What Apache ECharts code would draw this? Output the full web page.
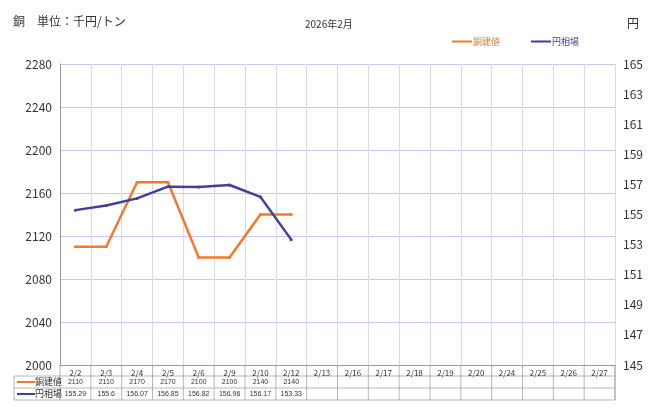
<!DOCTYPE html>
<html><head><meta charset="utf-8">
<script src="https://cdn.jsdelivr.net/npm/echarts@6/dist/echarts.min.js"></script>
<style>body{margin:0}#c{width:664px;height:418px}</style></head>
<body><div id="c"></div>
<script>
const days = ['2/2','2/3','2/4','2/5','2/6','2/9','2/10','2/12','2/13','2/16','2/17','2/18','2/19','2/20','2/24','2/25','2/26','2/27'];
const copper = [2110, 2110, 2170, 2170, 2100, 2100, 2140, 2140];
const copperText = ['2110','2110','2170','2170','2100','2100','2140','2140'];
const yen = [155.29, 155.6, 156.07, 156.85, 156.82, 156.96, 156.17, 153.33];
const yenText = ['155.29','155.6','156.07','156.85','156.82','156.96','156.17','153.33'];

const font = '"Noto Sans CJK JP", sans-serif';
const chart = echarts.init(document.getElementById('c'));
chart.setOption({
    animation: false,
    textStyle: {fontFamily: font},
    title: [
        {text: '銅　単位：千円/トン', left: 8, top: 10, textStyle: {fontSize: 12, fontWeight: 'normal', color: '#333'}},
        {text: '2026年2月', left: 300, top: 14, textStyle: {fontSize: 10, fontWeight: 'normal', color: '#333'}},
        {text: '円', left: 622, top: 12, textStyle: {fontSize: 12, fontWeight: 'normal', color: '#333'}}
    ],
    legend: {
        right: 80, top: 32, itemWidth: 20, itemHeight: 2, itemGap: 30,
        textStyle: {fontSize: 9, color: 'inherit', padding: [0, 0, 0, -4]},
        data: ['銅建値', '円相場']
    },
    grid: {left: 60, right: 49, top: 64, bottom: 53},
    xAxis: {
        type: 'category', data: days, boundaryGap: true,
        axisLine: {lineStyle: {color: '#999'}}, axisTick: {show: false},
        axisLabel: {fontSize: 8, color: '#333', margin: 4, interval: 0},
        splitLine: {show: true, lineStyle: {color: '#d8d8f4'}}
    },
    yAxis: [
        {type: 'value', min: 2000, max: 2280, interval: 40,
         axisLine: {show: true, lineStyle: {color: '#999'}},
         axisLabel: {fontSize: 12, color: '#333', formatter: v => String(v)},
         splitLine: {lineStyle: {color: '#c8c8ee'}}},
        {type: 'value', min: 145, max: 165, interval: 2,
         axisLabel: {fontSize: 12, color: '#333'},
         splitLine: {show: false}}
    ],
    series: [
        {name: '銅建値', type: 'line', data: copper, yAxisIndex: 0,
         color: '#f47a2a', lineStyle: {width: 2.5}, symbol: 'circle', symbolSize: 3},
        {name: '円相場', type: 'line', data: yen, yAxisIndex: 1,
         color: '#3f3f9e', lineStyle: {width: 2.5}, symbol: 'circle', symbolSize: 3}
    ]
});

// data table under the x axis
const g = [];
const x0 = 14, x1 = 615, yTop = 365, r1 = 376, r2 = 388, r3 = 400;
const line = (a, b, c, d) => g.push({type: 'line', shape: {x1: a, y1: b, x2: c, y2: d}, style: {stroke: '#888', lineWidth: 0.6}});
[r1, r2, r3].forEach(y => line(x0, y, x1, y));
line(x0, r1, x0, r3);
line(x1, yTop, x1, r3);
const step = (x1 - 60) / days.length;
for (let i = 0; i <= days.length; i++) line(60 + i * step, yTop, 60 + i * step, r3);
const rows = [[copperText, r1, '銅建値', '#f47a2a'], [yenText, r2, '円相場', '#3f3f9e']];
rows.forEach(([vals, y, name, col]) => {
    g.push({type: 'line', shape: {x1: 17, y1: y + 6, x2: 35, y2: y + 6}, style: {stroke: col, lineWidth: 2}});
    g.push({type: 'text', x: 35, y: y + 6, style: {text: name, fontSize: 9, fill: '#333', fontFamily: font, verticalAlign: 'middle'}});
    vals.forEach((v, i) => {
        const px = chart.convertToPixel({xAxisIndex: 0}, days[i]);
        g.push({type: 'text', x: px, y: y + 6, style: {text: v, fontSize: 7, fill: '#333', align: 'center', verticalAlign: 'middle'}});
    });
});
chart.setOption({graphic: g});
</script>
</body></html>
